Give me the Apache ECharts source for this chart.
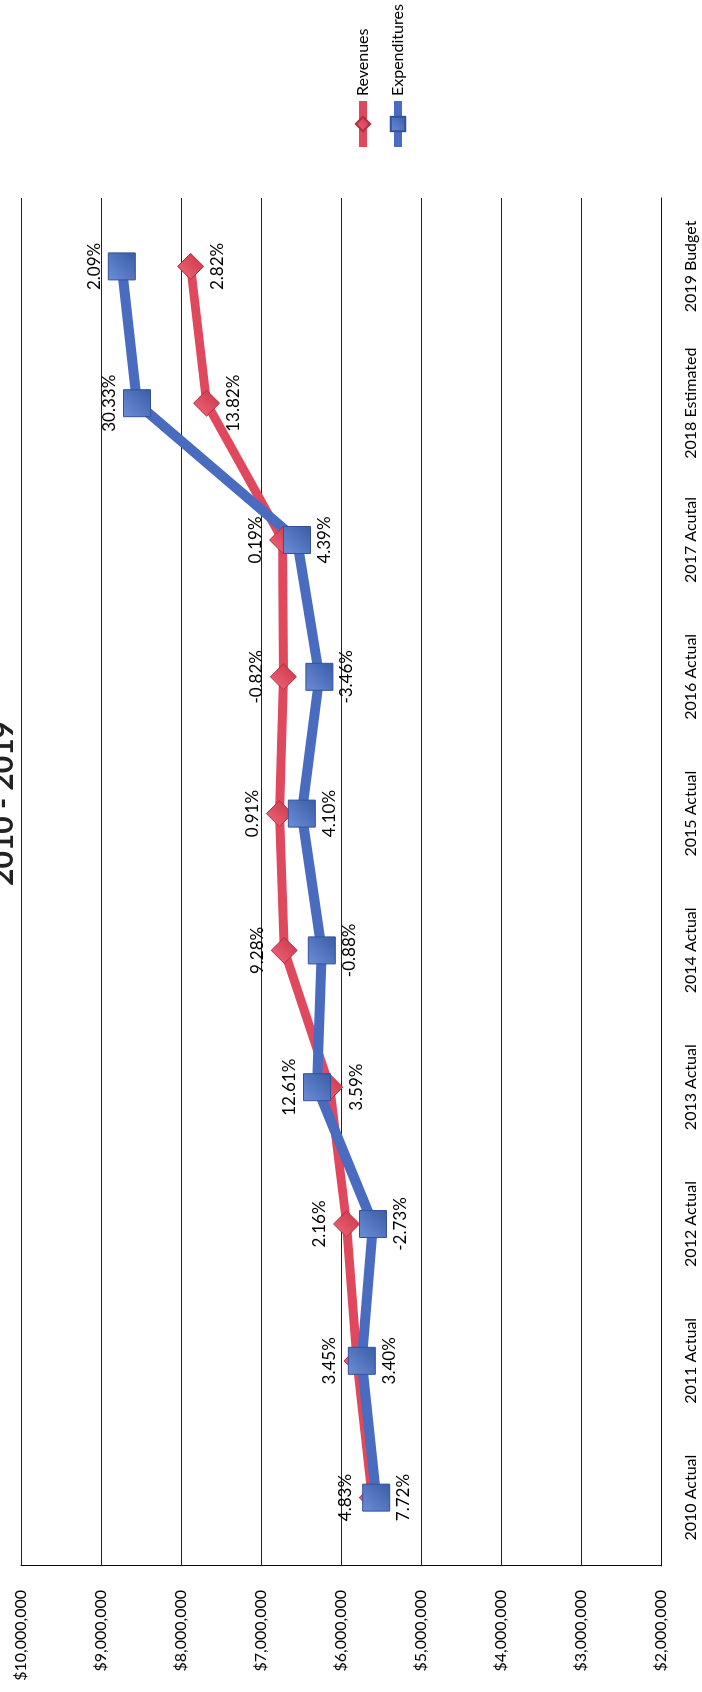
<!DOCTYPE html>
<html>
<head>
<meta charset="utf-8">
<script src="https://cdn.jsdelivr.net/npm/echarts@6/dist/echarts.min.js"></script>
<style>
  html, body { margin: 0; padding: 0; width: 702px; height: 1692px; overflow: hidden; background: #fff; }
  /* chart is drawn landscape, then turned like the scanned page */
  #chart {
    position: absolute; left: 0; top: 0;
    width: 1692px; height: 702px;
    transform-origin: 0 0;
    transform: translate(0, 1692px) rotate(-90deg);
  }
</style>
</head>
<body>
<div id="chart"></div>
<script>
  const categories = ['2010 Actual', '2011 Actual', '2012 Actual', '2013 Actual', '2014 Actual',
    '2015 Actual', '2016 Actual', '2017 Acutal', '2018 Estimated', '2019 Budget']
  const revenues = [5610000, 5800000, 5930000, 6140000, 6710000, 6770000, 6720000, 6730000, 7680000, 7880000]
  const expenditures = [5560000, 5740000, 5600000, 6300000, 6240000, 6490000, 6270000, 6550000, 8550000, 8740000]
  // yearly change shown as labels
  const revChange = [4.83, 3.45, 2.16, 3.59, 9.28, 0.91, -0.82, 0.19, 13.82, 2.82]
  const expChange = [7.72, 3.40, -2.73, 12.61, -0.88, 4.10, -3.46, 4.39, 30.33, 2.09]
  const valueTicks = [2000000, 10000000, 1000000]

  function drawChart() {
    let myChart = echarts.init(document.getElementById('chart'))
    const font = 'Lato, "Open Sans", sans-serif'
    // which labels sit under the point instead of above
    const revBelow = [3, 8, 9]
    const expAbove = [3, 8, 9]
    const pct = v => v.toFixed(2) + '%'

    myChart.setOption({
      animation: false,
      title: {
        text: '2010 - 2019',
        left: 806,
        top: -12,
        padding: 0,
        textStyle: { fontFamily: font, fontSize: 30, fontWeight: 'bold', color: '#222', lineHeight: 30 }
      },
      legend: {
        orient: 'vertical',
        left: 1536,
        top: 347,
        itemWidth: 46,
        itemHeight: 18,
        itemGap: 13,
        lineStyle: { width: 8 },
        textStyle: { fontFamily: font, fontSize: 16, color: '#000', lineHeight: 22 },
        data: ['Revenues', 'Expenditures']
      },
      grid: {
        left: 126,
        right: 198,
        top: 21,
        bottom: 41
      },
      xAxis: {
        type: 'category',
        data: categories,
        axisTick: { show: false },
        axisLine: { lineStyle: { color: '#111', width: 1 } },
        axisLabel: { interval: 0, fontFamily: font, fontSize: 16, color: '#000', margin: 22 }
      },
      yAxis: {
        type: 'value',
        min: valueTicks[0],
        max: valueTicks[1],
        interval: valueTicks[2],
        axisLine: { show: true, lineStyle: { color: '#111', width: 1 } },
        axisTick: { show: false },
        splitLine: { lineStyle: { color: '#222', width: 1 } },
        axisLabel: {
          fontFamily: font, fontSize: 16, color: '#000', margin: 24,
          formatter: v => '$' + v.toLocaleString('en-US')
        }
      },
      series: [
        {
          name: 'Revenues',
          type: 'line',
          symbol: 'diamond',
          symbolSize: 26,
          lineStyle: { color: '#e0485d', width: 9 },
          itemStyle: {
            color: {
              type: 'linear', x: 0, y: 0, x2: 1, y2: 1,
              colorStops: [{ offset: 0, color: '#f06a7a' }, { offset: 1, color: '#c93248' }]
            },
            borderColor: '#b82a3e',
            borderWidth: 1
          },
          label: {
            show: true,
            fontFamily: font, fontSize: 17, color: '#000',
            formatter: p => pct(revChange[p.dataIndex])
          },
          data: revenues.map((v, i) => ({ value: v, label: { position: revBelow.includes(i) ? 'bottom' : 'top' } }))
        },
        {
          name: 'Expenditures',
          type: 'line',
          symbol: 'rect',
          symbolSize: 27,
          lineStyle: { color: '#4a6cc0', width: 10 },
          itemStyle: {
            color: {
              type: 'linear', x: 0, y: 0, x2: 1, y2: 1,
              colorStops: [{ offset: 0, color: '#6c8ed8' }, { offset: 1, color: '#3a5ba6' }]
            },
            borderColor: '#34529a',
            borderWidth: 1
          },
          label: {
            show: true,
            fontFamily: font, fontSize: 17, color: '#000',
            formatter: p => pct(expChange[p.dataIndex])
          },
          data: expenditures.map((v, i) => ({ value: v, label: { position: expAbove.includes(i) ? 'top' : 'bottom' } }))
        }
      ]
    })
  }

  drawChart()
</script>
</body>
</html>
